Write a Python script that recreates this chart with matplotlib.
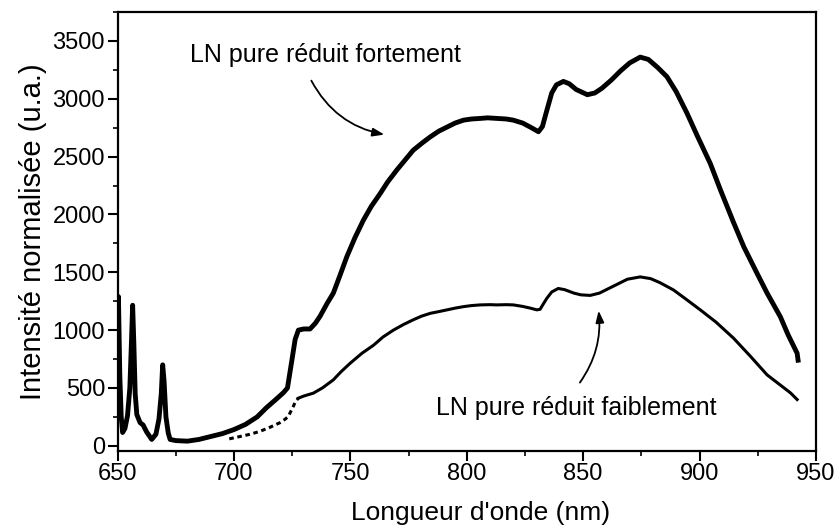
import numpy as np
import matplotlib.pyplot as plt
from matplotlib.ticker import MultipleLocator

plt.rcParams['font.family'] = ['Liberation Sans', 'DejaVu Sans']

# spectre LN pure fortement réduit
x_fort = [650.0, 650.4, 651.0, 651.6, 652.2, 653.2, 654.3, 655.3, 656.0, 656.5,
          657.0, 657.6, 658.3, 659.7, 661.0, 662.5, 664.7, 666.5, 667.8, 668.8,
          669.4, 670.0, 670.8, 671.8, 672.6, 675, 680, 685, 690, 695,
          700, 705, 710, 714, 718, 721.3, 723, 724.9, 726.3, 727.7,
          730, 732.7, 735, 737, 740, 742.7, 745.5, 748.5, 752, 755.6,
          759, 762.8, 766, 770, 773.5, 777, 781, 784.3, 788, 791.5,
          795, 798.6, 802, 805.8, 809, 813, 817, 820, 824, 827.3,
          829.5, 830.8, 832.5, 834.4, 836.5, 838.5, 841.5, 844, 847, 851.8,
          855, 858, 862, 866, 870, 874.5, 878, 882, 886, 890,
          894.6, 899, 904.6, 909, 914.6, 919, 924.7, 929, 934.7, 938,
          941.9, 942.3]
y_fort = [1000, 1290, 600, 250, 115, 150, 260, 500, 900, 1215,
          900, 450, 270, 200, 180, 120, 55, 100, 230, 450,
          700, 560, 250, 110, 55, 45, 40, 55, 80, 105,
          140, 185, 250, 330, 400, 460, 500, 740, 920, 1000,
          1010, 1010, 1060, 1120, 1230, 1320, 1470, 1635, 1800, 1950,
          2070, 2180, 2280, 2385, 2470, 2555, 2620, 2670, 2720, 2755,
          2790, 2815, 2825, 2830, 2835, 2830, 2825, 2815, 2790, 2755,
          2730, 2715, 2760, 2900, 3050, 3120, 3150, 3130, 3080, 3035,
          3050, 3090, 3160, 3240, 3310, 3360, 3340, 3270, 3190, 3060,
          2875, 2680, 2440, 2210, 1930, 1720, 1490, 1320, 1115, 960,
          800, 740]

# spectre LN pure faiblement réduit
x_faible = [698, 702.6, 707, 711.2, 715.5, 719.8, 722, 723.4, 724.5, 725.5,
            726.5, 727.7, 730, 734.1, 738, 742.7, 746, 750, 755, 760,
            764, 768.5, 773, 777.1, 780.5, 784.3, 788, 791.5, 795, 798.6,
            802, 805.8, 810, 813, 817, 820, 824, 827.3, 830.1, 831.5,
            833, 834.4, 836.5, 839.3, 842, 846, 849, 853, 857, 861,
            865, 869, 874.5, 879, 883, 888.8, 894, 900.3, 907, 914.6,
            922, 929, 935, 939, 941.9]
y_faible = [60, 80, 100, 125, 160, 200, 230, 255, 300, 340,
            385, 412, 430, 455, 500, 570, 640, 715, 800, 870,
            940, 1000, 1050, 1090, 1120, 1145, 1160, 1175, 1190, 1203,
            1212, 1218, 1220, 1218, 1220, 1218, 1205, 1190, 1175, 1180,
            1230, 1275, 1330, 1360, 1350, 1320, 1305, 1300, 1320, 1360,
            1400, 1440, 1460, 1445, 1410, 1347, 1270, 1175, 1070, 930,
            770, 613, 520, 458, 400]

fig = plt.figure(figsize=(8.37, 5.30), dpi=100)
ax = fig.add_axes([117.5 / 837, 79 / 530, 698.5 / 837, 439 / 530])

ax.plot(x_fort, y_fort, color='black', lw=3.5, solid_joinstyle='round')

# début en pointillés jusqu'à ~728 nm
n = x_faible.index(727.7)
ax.plot(x_faible[:n + 1], y_faible[:n + 1], color='black', lw=2.2,
        dashes=(1.5, 1.2))
ax.plot(x_faible[n:], y_faible[n:], color='black', lw=2.2)

ax.set_xlim(650, 950)
ax.set_ylim(-45, 3750)
ax.xaxis.set_major_locator(MultipleLocator(50))
ax.xaxis.set_minor_locator(MultipleLocator(25))
ax.yaxis.set_major_locator(MultipleLocator(500))
ax.yaxis.set_minor_locator(MultipleLocator(250))
ax.tick_params(which='major', direction='out', length=7, width=1.5,
               labelsize=17, pad=2)
ax.tick_params(which='minor', direction='out', length=3.5, width=1.2)
for s in ax.spines.values():
    s.set_linewidth(1.6)

ax.set_xlabel("Longueur d'onde (nm)", fontsize=19)
ax.xaxis.set_label_coords(0.52, -0.115)
ax.set_ylabel("Intensité normalisée (u.a.)", fontsize=21, labelpad=4)

ax.text(681, 3377, 'LN pure réduit fortement', fontsize=18, va='center')
ax.annotate('', xy=(765.8, 2686), xytext=(732.7, 3178),
            arrowprops=dict(arrowstyle='-|>,head_length=0.7,head_width=0.25',
                            color='black', lw=1.3,
                            connectionstyle='arc3,rad=0.25'))

ax.text(787, 328, 'LN pure réduit faiblement', fontsize=18, va='center')
ax.annotate('', xy=(856.5, 1192), xytext=(847.9, 527),
            arrowprops=dict(arrowstyle='-|>,head_length=0.7,head_width=0.25',
                            color='black', lw=1.3,
                            connectionstyle='arc3,rad=0.2'))

fig.savefig('out.png', dpi=100)
